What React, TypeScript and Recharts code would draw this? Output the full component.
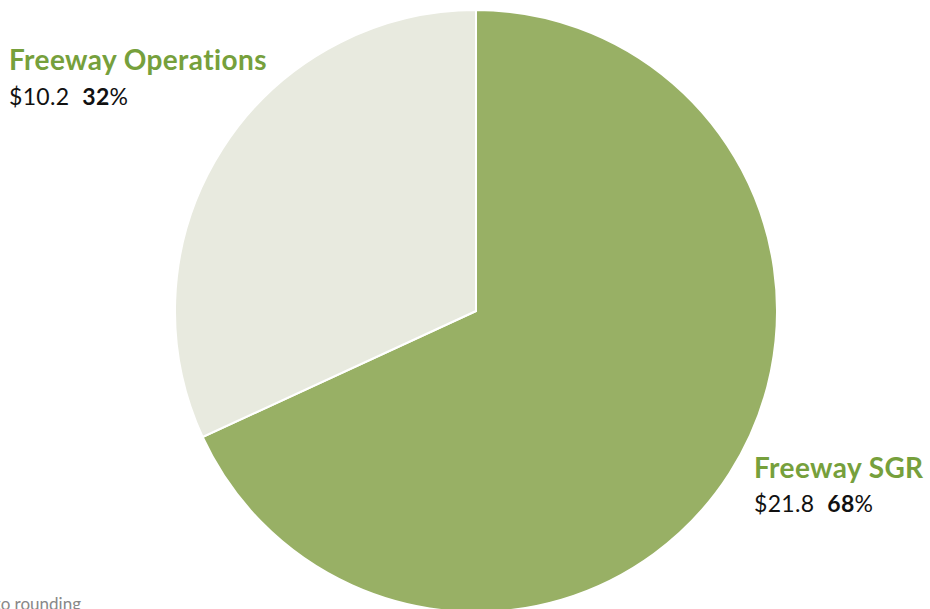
import React from 'react';
import { PieChart, Pie, Cell, Customized } from 'recharts';

const categories = ['Freeway SGR', 'Freeway Operations'];
const amounts = [21.8, 10.2];
const percents = ['68%', '32%'];
const colors = ['#98b065', '#e8eadf'];
const note = 'Totals may not add due to rounding';

const data = categories.map((name, i) => ({ name, value: amounts[i] }));

const FONT = 'Lato, "Open Sans", sans-serif';

const Labels = () => (
  <g style={{ fontFamily: FONT }}>
    <text x={9} y={70} fill="#76a03c" fontSize={28} fontWeight={700} letterSpacing={0.4}>{categories[1]}</text>
    <text x={9} y={105} fill="#111" fontSize={23} letterSpacing={0.3}>
      <tspan>${amounts[1].toFixed(1)}</tspan>
      <tspan dx={13} fontWeight={700}>{percents[1].replace('%', '')}</tspan>
      <tspan>%</tspan>
    </text>
    <text x={754} y={478} fill="#76a03c" fontSize={28} fontWeight={700} letterSpacing={0.4}>{categories[0]}</text>
    <text x={754} y={512} fill="#111" fontSize={23} letterSpacing={0.3}>
      <tspan>${amounts[0].toFixed(1)}</tspan>
      <tspan dx={13} fontWeight={700}>{percents[0].replace('%', '')}</tspan>
      <tspan>%</tspan>
    </text>
    <text x={81} y={610} fill="#888" fontSize={17} textAnchor="end">{note}</text>
  </g>
);

export default function App() {
  return (
    <div style={{ position: 'absolute', left: 0, top: 0, width: 930, height: 609, background: '#fff' }}>
      <PieChart width={930} height={609} margin={{ top: 0, right: 0, bottom: 0, left: 0 }}>
        <Pie
          data={data}
          dataKey="value"
          nameKey="name"
          cx={476}
          cy={311}
          outerRadius={301}
          startAngle={90}
          endAngle={-270}
          stroke="#ffffff"
          strokeWidth={2}
          isAnimationActive={false}
        >
          {data.map((d, i) => (
            <Cell key={d.name} fill={colors[i]} />
          ))}
        </Pie>
        <Customized component={Labels} />
      </PieChart>
    </div>
  );
}
